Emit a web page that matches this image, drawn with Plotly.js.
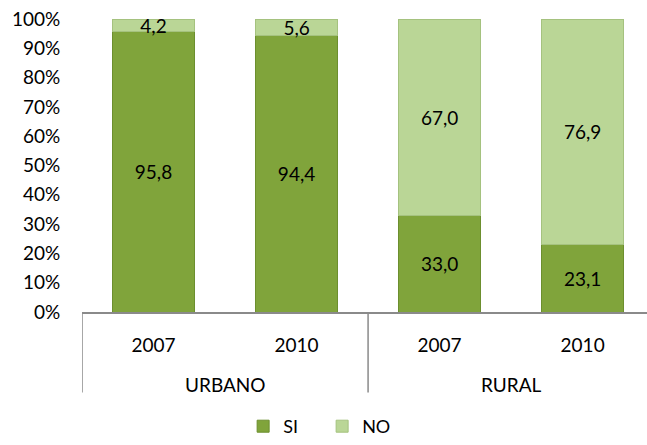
<!DOCTYPE html>
<html>
<head>
<meta charset="utf-8">
<script src="https://cdn.plot.ly/plotly-3.0.1.min.js"></script>
<style>html,body{margin:0;padding:0;background:#fff;}#chart{width:647px;height:445px;}</style>
</head>
<body>
<div id="chart"></div>
<script>
const groups = ["URBANO", "URBANO", "RURAL", "RURAL"];
const years = ["2007", "2010", "2007", "2010"];
const siValues = [95.8, 94.4, 33.0, 23.1];
const noValues = [4.2, 5.6, 67.0, 76.9];
const seriesNames = ["SI", "NO"];
const yTickVals = [0, 10, 20, 30, 40, 50, 60, 70, 80, 90, 100];

const FONT = "Lato, 'Open Sans', sans-serif";
const AXIS_COLOR = "#8a8a8a";

// bar positions on the category axis (one slot per bar)
const xPos = years.map((_, i) => i);

// group spans derived from the group array
const groupNames = [...new Set(groups)];
const groupSpans = groupNames.map(g => {
  const idx = groups.map((v, i) => v === g ? i : -1).filter(i => i >= 0);
  return { name: g, start: Math.min(...idx), end: Math.max(...idx) };
});

const textCommon = {
  texttemplate: "%{y:.1f}",
  textposition: "inside",
  insidetextanchor: "middle",
  constraintext: "none",
  textfont: { family: FONT, size: 19, color: "#000" },
  hoverinfo: "skip"
};

const traces = [
  Object.assign({
    type: "bar",
    name: seriesNames[0],
    x: xPos,
    y: siValues,
    marker: { color: "#80a43b", line: { color: "#6c8f2e", width: 1 } }
  }, textCommon),
  Object.assign({
    type: "bar",
    name: seriesNames[1],
    x: xPos,
    y: noValues,
    marker: { color: "#bad696", line: { color: "#a5c27f", width: 1 } }
  }, textCommon)
];

const dividerBottom = -(399 - 317) / 298;
const shapes = [];
const dividerXs = [groupSpans[0].start - 0.5].concat(groupSpans.map(s => s.end + 0.5));
dividerXs.forEach(xv => {
  shapes.push({
    type: "line", xref: "x", yref: "paper",
    x0: xv, x1: xv, y0: 0, y1: dividerBottom,
    line: { color: AXIS_COLOR, width: 1.5 }
  });
});

const annotations = groupSpans.map(s => ({
  xref: "x", yref: "paper",
  x: (s.start + s.end) / 2,
  y: -(391 - 317) / 298,
  yanchor: "middle",
  text: s.name,
  showarrow: false,
  font: { family: FONT, size: 19, color: "#000" }
}));

const layout = {
  width: 647,
  height: 445,
  margin: { l: 82, r: 0, t: 19, b: 128 },
  barmode: "stack",
  bargap: 0.43,
  separators: ",.",
  paper_bgcolor: "#fff",
  plot_bgcolor: "#fff",
  font: { family: FONT, size: 19, color: "#000" },
  showlegend: true,
  legend: {
    orientation: "h",
    x: 0.425,
    xanchor: "center",
    y: -(434 - 317) / 298,
    yanchor: "middle",
    font: { family: FONT, size: 18, color: "#000" },
    itemwidth: 30,
    entrywidth: 34,
    entrywidthmode: "pixels",
    traceorder: "normal"
  },
  xaxis: {
    type: "linear",
    range: [-0.5, 3.45],
    tickvals: xPos,
    ticktext: years,
    showline: true,
    linecolor: AXIS_COLOR,
    linewidth: 1.5,
    showgrid: false,
    zeroline: false,
    ticks: "outside",
    ticklen: 16,
    tickcolor: "rgba(0,0,0,0)",
    tickfont: { family: FONT, size: 19, color: "#000" }
  },
  yaxis: {
    range: [0, 100],
    tickvals: yTickVals,
    ticktext: yTickVals.map(v => v + "%"),
    showgrid: false,
    zeroline: false,
    showline: false,
    ticks: "outside",
    ticklen: 17,
    tickcolor: "rgba(0,0,0,0)",
    tickfont: { family: FONT, size: 19, color: "#000" }
  },
  shapes: shapes,
  annotations: annotations
};

Plotly.newPlot("chart", traces, layout, { displayModeBar: false, staticPlot: true });
</script>
</body>
</html>
